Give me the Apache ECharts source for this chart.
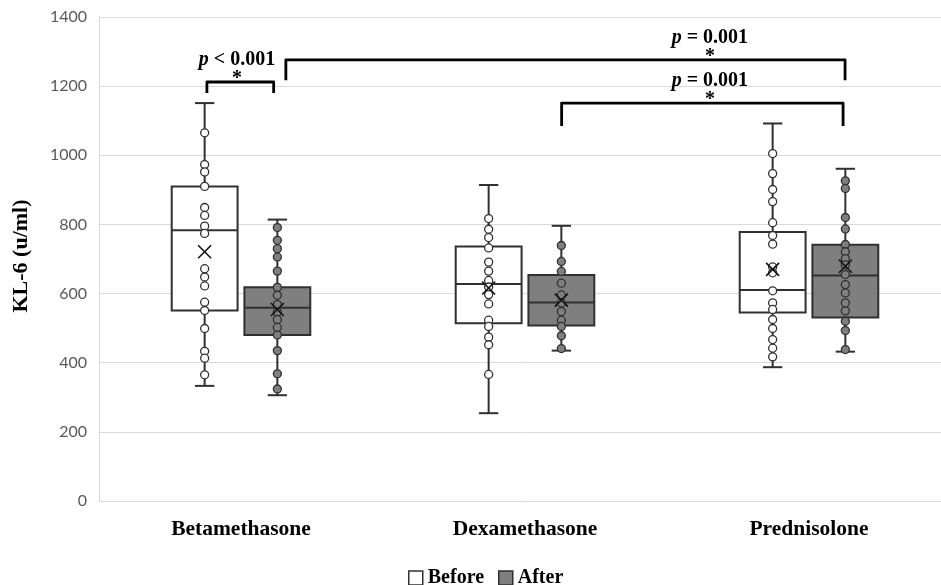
<!DOCTYPE html>
<html>
<head>
<meta charset="utf-8">
<script src="https://cdn.jsdelivr.net/npm/echarts@6/dist/echarts.min.js"></script>
<style>html,body{margin:0;padding:0;background:#fff}#c{width:941px;height:585px}</style>
</head>
<body>
<div id="c"></div>
<script>
const categories = ['Betamethasone', 'Dexamethasone', 'Prednisolone'];
const yTicks = [0, 200, 400, 600, 800, 1000, 1200, 1400];

// [min, q1, median, q3, max]
const beforeBox = [
  [333, 551, 783, 910, 1151],
  [254, 514, 628, 736, 914],
  [387, 545, 610, 778, 1092]
];
const afterBox = [
  [306, 480, 559, 618, 814],
  [435, 508, 574, 654, 796],
  [432, 531, 652, 741, 961]
];
const beforeMean = [721, 616, 670];
const afterMean = [554, 581, 679];

const beforePoints = [
  [1065, 973, 952, 910, 849, 826, 795, 774, 672, 648, 622, 575, 551, 499, 433, 413, 365],
  [817, 786, 762, 732, 691, 665, 638, 619, 597, 570, 523, 505, 474, 452, 366],
  [1005, 947, 901, 866, 805, 768, 743, 677, 660, 608, 573, 554, 525, 499, 467, 442, 417]
];
const afterPoints = [
  [791, 754, 730, 706, 665, 618, 595, 568, 546, 525, 502, 480, 435, 368, 324],
  [739, 693, 664, 630, 596, 573, 548, 523, 505, 478, 441],
  [926, 904, 820, 787, 742, 721, 701, 683, 655, 626, 602, 573, 550, 520, 493, 438]
];

// significance brackets (x in band units, y in KL-6 units)
const bracketX1 = [0.38, 0.658, 1.629];
const bracketX2 = [0.615, 2.627, 2.620];
const bracketBarY = [1212, 1276, 1151];
const bracketTipY = [1180, 1217, 1085];
const bracketLabelX = [0.486, 2.151, 2.151];
const bracketLabels = ['{i|p} < 0.001', '{i|p} = 0.001', '{i|p} = 0.001'];

const OFFSET = 0.128;
const BOX_W = 0.232;
const CAP_W = 0.068;

function boxRows(boxes, means) {
  return boxes.map((b, i) => [i, b[0], b[1], b[2], b[3], b[4], means[i]]);
}
function pointRows(points, off) {
  const out = [];
  points.forEach((arr, i) => arr.forEach(v => out.push([i + 0.5 + off, v])));
  return out;
}

function boxRenderer(off, fill) {
  return function (params, api) {
    const i = api.value(0);
    const cx = i + 0.5 + off;
    const mn = api.coord([cx, api.value(1)]);
    const q1 = api.coord([cx, api.value(2)]);
    const md = api.coord([cx, api.value(3)]);
    const q3 = api.coord([cx, api.value(4)]);
    const mx = api.coord([cx, api.value(5)]);
    const w = api.size([BOX_W, 0])[0];
    const cw = api.size([CAP_W, 0])[0];
    const x = mn[0];
    const stroke = '#303030';
    const ls = { stroke: stroke, lineWidth: 2 };
    return {
      type: 'group',
      children: [
        { type: 'line', shape: { x1: x, y1: mn[1], x2: x, y2: q1[1] }, style: ls },
        { type: 'line', shape: { x1: x, y1: q3[1], x2: x, y2: mx[1] }, style: ls },
        { type: 'line', shape: { x1: x - cw / 2, y1: mn[1], x2: x + cw / 2, y2: mn[1] }, style: ls },
        { type: 'line', shape: { x1: x - cw / 2, y1: mx[1], x2: x + cw / 2, y2: mx[1] }, style: ls },
        { type: 'rect', shape: { x: x - w / 2, y: q3[1], width: w, height: q1[1] - q3[1] },
          style: { fill: fill, stroke: stroke, lineWidth: 2 } },
        { type: 'line', shape: { x1: x - w / 2, y1: md[1], x2: x + w / 2, y2: md[1] }, style: ls }
      ]
    };
  };
}

function meanRenderer(off) {
  return function (params, api) {
    const i = api.value(0);
    const cx = i + 0.5 + off;
    const m = api.coord([cx, api.value(6)]);
    const s = 6.5;
    const st = { stroke: '#111', lineWidth: 1.6 };
    return {
      type: 'group',
      children: [
        { type: 'line', shape: { x1: m[0] - s, y1: m[1] - s, x2: m[0] + s, y2: m[1] + s }, style: st },
        { type: 'line', shape: { x1: m[0] - s, y1: m[1] + s, x2: m[0] + s, y2: m[1] - s }, style: st }
      ]
    };
  };
}

const bracketRows = bracketX1.map((x1, i) => [x1, bracketX2[i], bracketBarY[i], bracketTipY[i], bracketLabelX[i], i]);

function bracketRenderer(params, api) {
  const k = api.value(5);
  const a = api.coord([api.value(0), api.value(2)]);
  const b = api.coord([api.value(1), api.value(2)]);
  const ta = api.coord([api.value(0), api.value(3)]);
  const lx = api.coord([api.value(4), api.value(2)]);
  const font = 'bold 20px "Liberation Serif", "Times New Roman", serif';
  return {
    type: 'group',
    children: [
      { type: 'polyline', shape: { points: [[a[0], ta[1]], [a[0], a[1]], [b[0], b[1]], [b[0], ta[1]]] },
        style: { stroke: '#000', lineWidth: 2.8, fill: null, lineJoin: 'round' } },
      { type: 'text', x: lx[0], y: a[1] - 3,
        style: { text: '*', font: font, fill: '#000', align: 'center', verticalAlign: 'middle' } },
      { type: 'text', x: lx[0], y: a[1] - 22,
        style: { text: bracketLabels[k], font: font, fill: '#000', align: 'center', verticalAlign: 'middle',
          rich: { i: { fontStyle: 'italic', fontWeight: 'bold', fontSize: 20, fontFamily: 'Liberation Serif' } } } }
    ]
  };
}

const chart = echarts.init(document.getElementById('c'), null, { renderer: 'canvas' });
chart.setOption({
  animation: false,
  backgroundColor: '#fff',
  grid: { left: 99, width: 852, top: 17, bottom: 84, containLabel: false, outerBoundsMode: 'none' },
  legend: {
    left: 403, top: 563,
    itemWidth: 14, itemHeight: 14, itemGap: 14,
    icon: 'rect',
    textStyle: { fontFamily: 'Liberation Serif', fontWeight: 'bold', fontSize: 20, color: '#000' },
    data: [
      { name: 'Before', itemStyle: { color: '#fff', borderColor: '#303030', borderWidth: 1.5 } },
      { name: 'After', itemStyle: { color: '#7f7f7f', borderColor: '#303030', borderWidth: 1.5 } }
    ]
  },
  xAxis: [
    {
      type: 'category', data: categories, boundaryGap: true,
      axisLine: { show: false }, axisTick: { show: false },
      axisLabel: { margin: 17, fontFamily: 'Liberation Serif', fontWeight: 'bold', fontSize: 21.5, color: '#000' }
    },
    { type: 'value', min: 0, max: 3, show: false }
  ],
  yAxis: {
    type: 'value', min: 0, max: 1400, interval: 200,
    name: 'KL-6 (u/ml)', nameLocation: 'middle', nameGap: 67,
    nameTextStyle: { fontFamily: 'Liberation Serif', fontWeight: 'bold', fontSize: 22, color: '#000', padding: [0, 0, 0, 6] },
    axisLine: { show: true, lineStyle: { color: '#d9d9d9', width: 1 } },
    axisTick: { show: false },
    splitLine: { lineStyle: { color: '#d9d9d9', width: 1 } },
    axisLabel: { margin: 12, fontFamily: 'Lato', fontSize: 16, color: '#595959',
      formatter: v => (yTicks.indexOf(v) >= 0 ? String(v) : '') }
  },
  series: [
    { name: 'Before', type: 'custom', xAxisIndex: 1, renderItem: boxRenderer(-OFFSET, '#ffffff'),
      data: boxRows(beforeBox, beforeMean), itemStyle: { color: '#fff' }, z: 2 },
    { name: 'After', type: 'custom', xAxisIndex: 1, renderItem: boxRenderer(OFFSET, '#7f7f7f'),
      data: boxRows(afterBox, afterMean), itemStyle: { color: '#7f7f7f' }, z: 2 },
    { name: 'BeforePts', type: 'scatter', xAxisIndex: 1, data: pointRows(beforePoints, -OFFSET),
      symbol: 'circle', symbolSize: 8, z: 3,
      itemStyle: { color: '#ffffff', borderColor: '#303030', borderWidth: 1.3, opacity: 1 } },
    { name: 'AfterPts', type: 'scatter', xAxisIndex: 1, data: pointRows(afterPoints, OFFSET),
      symbol: 'circle', symbolSize: 8, z: 3,
      itemStyle: { color: '#7f7f7f', borderColor: '#303030', borderWidth: 1.3, opacity: 1 } },
    { name: 'BeforeMean', type: 'custom', xAxisIndex: 1, renderItem: meanRenderer(-OFFSET),
      data: boxRows(beforeBox, beforeMean), z: 4 },
    { name: 'AfterMean', type: 'custom', xAxisIndex: 1, renderItem: meanRenderer(OFFSET),
      data: boxRows(afterBox, afterMean), z: 4 },
    { name: 'Brackets', type: 'custom', xAxisIndex: 1, renderItem: bracketRenderer, clip: false,
      data: bracketRows, z: 5 }
  ]
});
</script>
</body>
</html>
